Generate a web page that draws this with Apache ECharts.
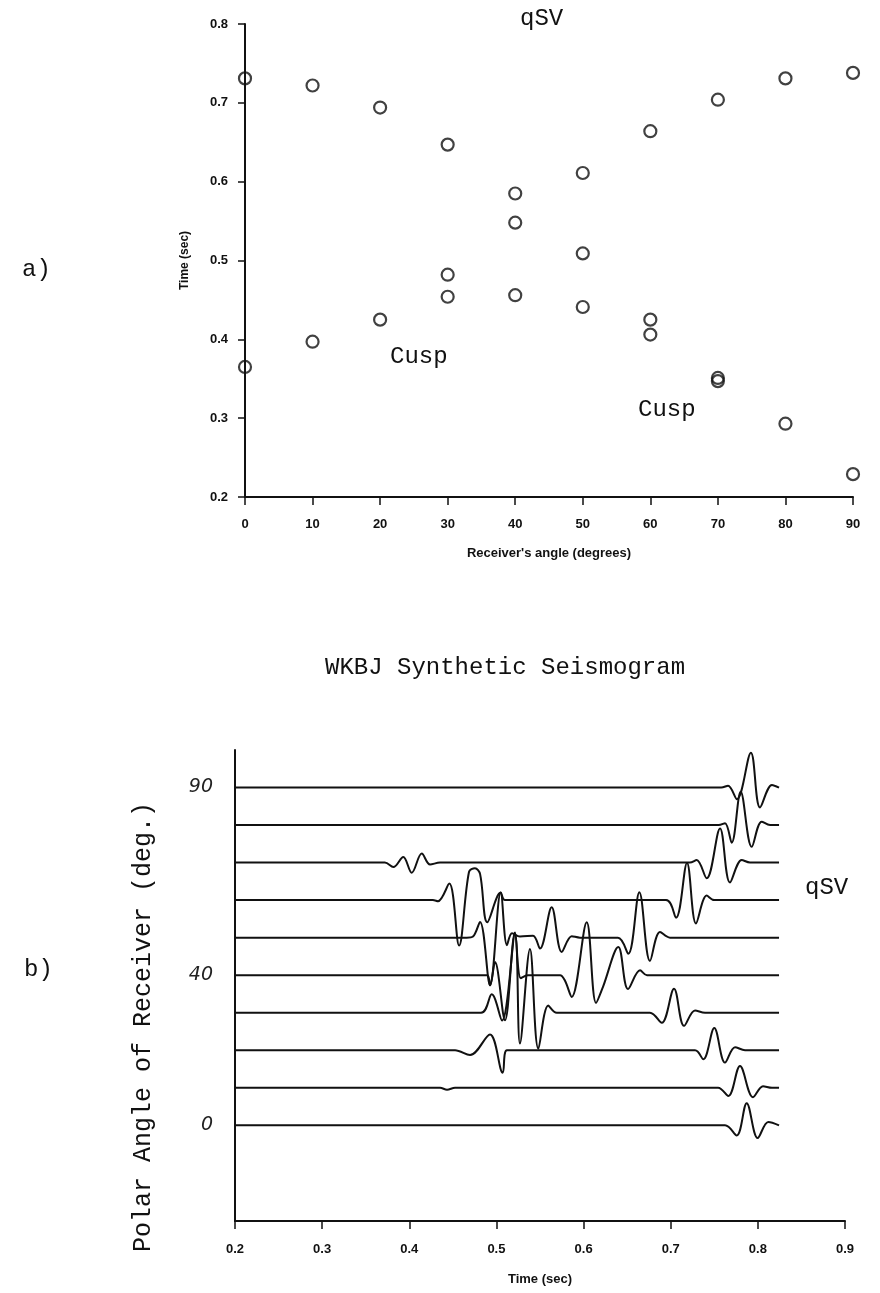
<!DOCTYPE html>
<html><head><meta charset="utf-8">
<script src="https://cdn.jsdelivr.net/npm/echarts@6/dist/echarts.min.js"></script>
<style>html,body{margin:0;padding:0;background:#fff}#c{width:880px;height:1293px}</style>
</head><body><div id="c"></div>
<script>
// ---------- Panel a: travel times ----------
const aAngles = [0,0,10,10,20,20,30,30,30,40,40,40,50,50,50,60,60,60,70,70,70,80,80,90,90];
const aTimes  = [0.731,0.365,0.722,0.397,0.694,0.425,0.647,0.482,0.454,0.585,0.548,0.456,0.611,0.509,0.441,0.664,0.425,0.406,0.704,0.351,0.347,0.731,0.293,0.738,0.229];
const aXTicks = [0,10,20,30,40,50,60,70,80,90];

// ---------- Panel b: WKBJ traces (time sec, amplitude in axis units) ----------
const traceAngles = [90,80,70,60,50,40,30,20,10,0];
const trace90 = [[0.2,0],[0.758,0],[0.7658,0.5],[0.776,-3.1],[0.792,9.3],[0.8025,-5.3],[0.8162,0.7],[0.8243,0]];
const trace80 = [[0.2,0],[0.755,0],[0.7623,0.5],[0.770,-4.7],[0.7803,8.9],[0.793,-5.8],[0.8044,0.9],[0.814,0],[0.8243,0]];
const trace70 = [[0.2,0],[0.372,0],[0.3817,-1.2],[0.3931,1.5],[0.4028,-2.7],[0.4143,2.4],[0.4238,-0.5],[0.4353,0],[0.722,0],[0.7298,0.7],[0.7413,-4.2],[0.7566,9.1],[0.768,-5.3],[0.7815,0.7],[0.791,0],[0.8243,0]];
const trace60 = [[0.2,0],[0.427,0],[0.433,-0.3],[0.4459,4.4],[0.4571,-12.1],[0.4685,7.5],[0.4754,8.5],[0.4812,7.0],[0.4895,-5.9],[0.5049,2.0],[0.5098,0],[0.6946,0],[0.7061,-4.7],[0.7187,9.9],[0.729,-6.2],[0.7413,1.2],[0.7497,0],[0.8243,0]];
const trace50 = [[0.2,0],[0.4659,0],[0.4731,0.3],[0.4812,4.2],[0.4926,-12.7],[0.5049,12],[0.5121,-2],[0.5179,1.2],[0.527,0.3],[0.542,0.5],[0.55,-2.9],[0.5634,8.1],[0.5749,-3.8],[0.5864,0.4],[0.5959,0],[0.6395,0],[0.6513,-4.3],[0.664,12.1],[0.6762,-6.2],[0.6877,1.5],[0.6992,0],[0.8243,0]];
const trace40 = [[0.2,0],[0.4892,0],[0.4926,-2.7],[0.4984,3.5],[0.5098,-12],[0.5213,11.4],[0.528,-0.8],[0.536,0],[0.573,0],[0.5787,-1.5],[0.5864,-5.8],[0.6036,14.1],[0.6143,-7.4],[0.6223,-3.1],[0.6399,7.5],[0.651,-3.7],[0.6648,1.3],[0.6728,0],[0.8243,0]];
const trace30 = [[0.2,0],[0.4823,0],[0.4946,4.9],[0.5064,-2.1],[0.5213,21],[0.527,-8.2],[0.5385,17],[0.5481,-9.6],[0.5595,1.9],[0.5692,0],[0.6762,0],[0.6897,-2.7],[0.7038,6.4],[0.7153,-3.5],[0.7279,0.6],[0.7394,0],[0.8243,0]];
const trace20 = [[0.2,0],[0.4525,0],[0.4697,-1.3],[0.4926,4.2],[0.5072,-6.0],[0.5121,0],[0.7279,0],[0.7374,-2.4],[0.75,5.9],[0.7623,-3.3],[0.7738,0.8],[0.7853,0],[0.8243,0]];
const trace10 = [[0.2,0],[0.4353,0],[0.4433,-0.5],[0.4525,0],[0.7543,0],[0.7661,-2.2],[0.7795,5.8],[0.7944,-2.5],[0.8059,0.4],[0.8162,0],[0.8243,0]];
const trace0  = [[0.2,0],[0.7623,0],[0.7757,-2.7],[0.7872,5.9],[0.7998,-3.4],[0.812,0.9],[0.8243,0]];
const traces = [trace90,trace80,trace70,trace60,trace50,trace40,trace30,trace20,trace10,trace0];
const bYLabels = [0,40,90];
const bXTicks = [0.2,0.3,0.4,0.5,0.6,0.7,0.8,0.9];

const MONO = "'Liberation Mono', 'DejaVu Sans Mono', monospace";
const SANS = "'Liberation Sans', Arial, sans-serif";
const INK = '#111';

const chart = echarts.init(document.getElementById('c'), null, {renderer:'canvas'});

const traceSeries = traces.map((tr, i) => ({
  type: 'line', xAxisIndex: 1, yAxisIndex: 1,
  data: tr.map(p => [p[0], traceAngles[i] + p[1]]),
  showSymbol: false, symbol: 'none', smooth: 0.35,
  lineStyle: {color: INK, width: 2}, silent: true, z: 3
}));

const option = {
  backgroundColor: '#fff',
  animation: false,
  grid: [
    {left: 245, top: 24, width: 608, height: 473},
    {left: 235, top: 750, width: 610, height: 471}
  ],
  xAxis: [
    {gridIndex: 0, type: 'value', min: 0, max: 90, interval: 10,
     axisLine: {show: true, onZero: false, lineStyle: {color: INK, width: 2}},
     axisTick: {show: true, inside: false, length: 8, lineStyle: {color: INK, width: 1.5}},
     axisLabel: {color: INK, fontSize: 13, fontFamily: SANS, fontWeight: 'bold', margin: 21},
     splitLine: {show: false},
     name: "Receiver's angle (degrees)", nameLocation: 'middle', nameGap: 50,
     nameTextStyle: {color: INK, fontSize: 13, fontFamily: SANS, fontWeight: 'bold'}},
    {gridIndex: 1, type: 'value', min: 0.2, max: 0.9, interval: 0.1,
     axisLine: {show: true, onZero: false, lineStyle: {color: INK, width: 2}},
     axisTick: {show: true, inside: false, length: 8, lineStyle: {color: INK, width: 1.5}},
     axisLabel: {color: INK, fontSize: 13, fontFamily: SANS, fontWeight: 'bold', margin: 22,
                 formatter: v => v.toFixed(1)},
     splitLine: {show: false},
     name: 'Time (sec)', nameLocation: 'middle', nameGap: 52,
     nameTextStyle: {color: INK, fontSize: 13, fontFamily: SANS, fontWeight: 'bold'}}
  ],
  yAxis: [
    {gridIndex: 0, type: 'value', min: 0.2, max: 0.8, interval: 0.1,
     axisLine: {show: true, onZero: false, lineStyle: {color: INK, width: 2}},
     axisTick: {show: true, inside: false, length: 7, lineStyle: {color: INK, width: 1.5}},
     axisLabel: {color: INK, fontSize: 13, fontFamily: SANS, fontWeight: 'bold', margin: 17,
                 formatter: v => v.toFixed(1)},
     splitLine: {show: false},
     name: 'Time (sec)', nameLocation: 'middle', nameGap: 54, nameRotate: 90,
     nameTextStyle: {color: INK, fontSize: 12, fontFamily: SANS, fontWeight: 'bold'}},
    {gridIndex: 1, type: 'value', min: -25.5, max: 100,
     axisLine: {show: true, onZero: false, lineStyle: {color: INK, width: 2}},
     axisTick: {show: false},
     axisLabel: {show: true, customValues: bYLabels, color: '#222', fontSize: 19,
                 fontStyle: 'italic', fontFamily: "'DejaVu Sans', sans-serif", margin: 22},
     splitLine: {show: false}}
  ],
  series: [
    {type: 'scatter', xAxisIndex: 0, yAxisIndex: 0,
     data: aAngles.map((a, i) => [a, aTimes[i]]),
     symbol: 'circle', symbolSize: 12,
     itemStyle: {color: 'rgba(255,255,255,0)', borderColor: INK, borderWidth: 2.2},
     silent: true, z: 4}
  ].concat(traceSeries),
  graphic: [
    {type: 'text', left: 520, top: 7, style: {text: 'qSV', font: `24px ${MONO}`, fill: INK}},
    {type: 'text', left: 22, top: 258, style: {text: 'a)', font: `24px ${MONO}`, fill: INK}},
    {type: 'text', left: 390, top: 345, style: {text: 'Cusp', font: `24px ${MONO}`, fill: INK}},
    {type: 'text', left: 638, top: 398, style: {text: 'Cusp', font: `24px ${MONO}`, fill: INK}},
    {type: 'text', left: 325, top: 656, style: {text: 'WKBJ Synthetic Seismogram', font: `24px ${MONO}`, fill: INK}},
    {type: 'text', left: 805, top: 876, style: {text: 'qSV', font: `24px ${MONO}`, fill: INK}},
    {type: 'text', left: 24, top: 958, style: {text: 'b)', font: `24px ${MONO}`, fill: INK}},
    {type: 'text', x: 143, y: 1027, rotation: Math.PI / 2,
     style: {text: 'Polar Angle of Receiver (deg.)', font: `25px ${MONO}`, fill: INK,
             textAlign: 'center', textVerticalAlign: 'middle'}}
  ]
};
chart.setOption(option);
</script>
</body></html>
